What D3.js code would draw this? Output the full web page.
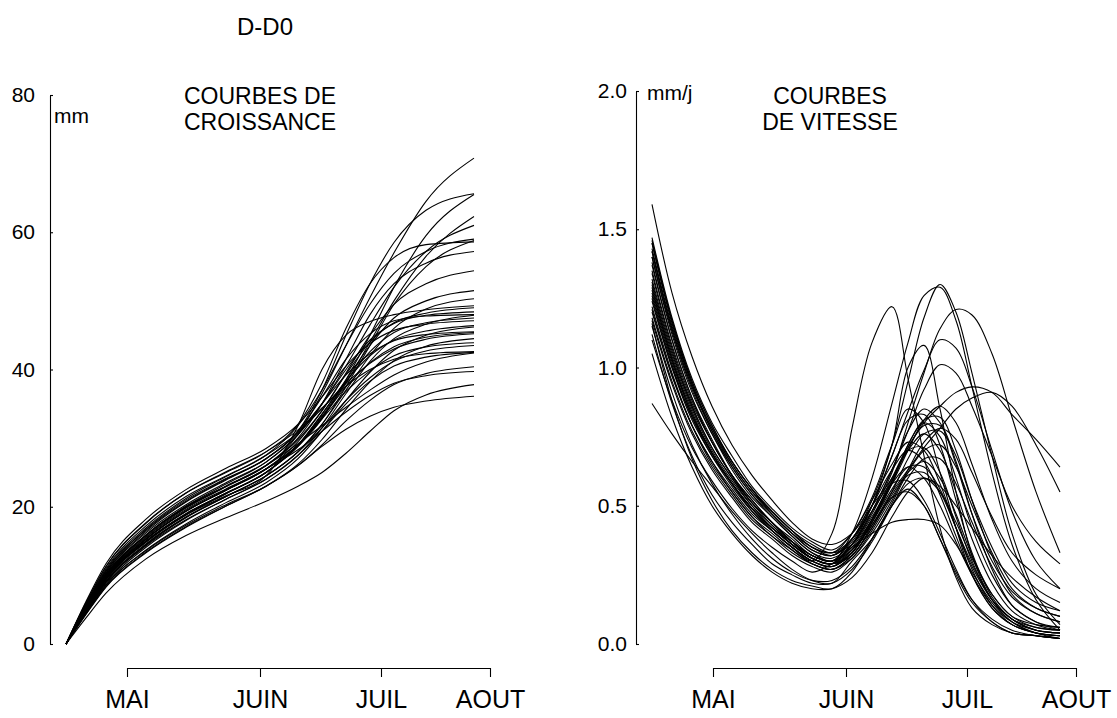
<!DOCTYPE html>
<html><head><meta charset="utf-8">
<script src="https://cdn.jsdelivr.net/npm/d3@7"></script>
<style>
body{margin:0;background:#fff}
svg{display:block}
text{font-family:"Liberation Sans",Arial,Helvetica,sans-serif;fill:#000}
</style>
</head><body><svg id="c" width="1117" height="718"></svg>
<script>
// ---- data ----
const monthLabels = ["MAI", "JUIN", "JUIL", "AOUT"];
const monthDays = [15.25, 48.5, 78.75, 106];
const growthTicks = [0, 20, 40, 60, 80];
const speedTicks = [0, 0.5, 1.0, 1.5, 2.0];

const growthDays = [0, 5, 10, 20, 30, 40, 50, 58, 64, 70, 76, 82, 90, 102];
const growthCurves = [
  [0, 5.2, 10.0, 15.8, 20.0, 23.0, 26, 30.5, 36.5, 43.5, 50.5, 57, 64.5, 70.8],
  [0, 5.6, 10.6, 16.6, 20.8, 24.0, 27, 31, 37, 45, 52.5, 58.5, 63.2, 65.6],
  [0, 5.0, 9.5, 15.0, 19.0, 22.0, 25, 28.8, 32.8, 38.5, 45, 52, 59.5, 65.5],
  [0, 5.0, 9.6, 15.2, 19.3, 22.4, 25.5, 29, 33, 38, 44, 50, 56.5, 62.3],
  [0, 5.4, 10.3, 16.2, 20.3, 23.5, 26.5, 30.5, 35, 40.5, 46.5, 52, 57.2, 61.0],
  [0, 5.8, 11.0, 17.2, 21.5, 24.5, 27.5, 31.8, 37, 43.5, 49.5, 54, 57.2, 59.0],
  [0, 4.8, 9.1, 14.5, 18.5, 21.5, 24.5, 28, 32, 37.5, 43.5, 49.5, 55, 58.8],
  [0, 6.0, 11.3, 17.6, 22.0, 25.0, 28, 32, 38, 46, 52.5, 56.3, 58.2, 58.6],
  [0, 5.2, 9.9, 15.6, 19.8, 22.9, 26, 30, 35, 41.5, 48, 52.5, 55.5, 57.2],
  [0, 5.1, 9.7, 15.3, 19.4, 22.4, 25.5, 29.5, 34, 39.5, 45, 49.5, 52.5, 54.4],
  [0, 4.9, 9.4, 14.9, 18.9, 21.9, 25, 29, 33.5, 38.5, 43.5, 47.5, 50, 51.5],
  [0, 4.7, 9.0, 14.4, 18.4, 21.5, 24.5, 28, 32, 37, 42, 46, 48.8, 50.3],
  [0, 5.0, 9.5, 15.0, 18.8, 21.6, 24.5, 31.8, 40, 45, 47, 48, 48.7, 49.3],
  [0, 5.3, 10.1, 15.9, 20.1, 23.3, 26.5, 30.5, 35, 40, 44.3, 46.7, 47.9, 48.4],
  [0, 5.6, 10.6, 16.7, 21.0, 24.1, 27, 31, 36, 41.5, 45.2, 47.1, 47.8, 48.0],
  [0, 4.6, 8.8, 14.1, 18.0, 21.1, 24, 27.5, 31.5, 36.5, 41.2, 44.5, 46.6, 47.9],
  [0, 5.2, 9.8, 15.5, 19.6, 22.6, 25.5, 29, 33.2, 38.2, 42.6, 45.4, 46.8, 47.5],
  [0, 6.2, 11.7, 18.2, 22.5, 25.6, 28.5, 32, 36, 40.5, 43.8, 45.7, 46.6, 47.1],
  [0, 5.0, 9.5, 15.0, 19.0, 22.0, 25, 29, 33.5, 38.3, 42, 44.3, 45.6, 46.4],
  [0, 4.5, 8.6, 13.7, 17.5, 20.6, 23.5, 27, 31, 35.5, 39.6, 42.8, 45, 46.2],
  [0, 5.5, 10.4, 16.4, 20.7, 23.9, 27, 30.8, 35, 39.2, 42.3, 44.2, 45.1, 45.5],
  [0, 4.9, 9.4, 14.8, 18.8, 21.9, 25, 28.8, 33, 37.5, 41, 43.3, 44.7, 45.4],
  [0, 5.7, 10.8, 16.9, 21.2, 24.4, 27.5, 30.8, 34.3, 38, 40.9, 43, 44.4, 45.2],
  [0, 4.4, 8.4, 13.4, 17.1, 20.1, 23, 26.2, 29.8, 34.2, 38.2, 41.3, 43.4, 44.5],
  [0, 5.1, 9.7, 15.3, 19.4, 22.4, 25.5, 29, 32.8, 36.8, 39.8, 42, 43.3, 43.9],
  [0, 4.8, 9.2, 14.6, 18.5, 21.5, 24.5, 28, 31.5, 35.5, 38.8, 41.2, 42.7, 43.5],
  [0, 6.0, 11.3, 17.7, 22.0, 25.1, 28, 31.2, 34.4, 37.6, 40, 41.5, 42.3, 42.6],
  [0, 4.7, 9.0, 14.3, 18.1, 21.1, 24, 27.5, 31, 35, 38.3, 40.5, 41.8, 42.5],
  [0, 5.3, 10.0, 15.8, 19.9, 23.0, 26, 29.2, 31.8, 34.5, 37, 39.2, 41.1, 42.4],
  [0, 4.5, 8.6, 13.6, 17.3, 20.3, 23, 26, 29, 32.5, 35.5, 37.8, 39.4, 40.4],
  [0, 5.1, 9.7, 15.3, 19.4, 22.5, 25.5, 28.3, 31, 33.8, 36.2, 38, 39.1, 39.7],
  [0, 3.8, 7.4, 12.4, 15.8, 18.4, 20.8, 23, 25, 27.8, 31, 34, 36.3, 37.8],
  [0, 4.3, 8.3, 13.3, 17.0, 20.1, 23, 26, 28.8, 31.3, 33.2, 34.5, 35.4, 36.1],
  [0, 5.3, 10.1, 15.9, 20.0, 23.0, 26, 29.8, 34, 39.3, 44, 46.8, 48.2, 49.0]
];

const speedDays = [0, 5, 10, 15, 20, 25, 30, 35, 40, 45, 50, 55, 60, 64, 68, 72, 76, 80, 85, 90, 96, 102];
const speedCurves = [
  [1.59,1.27,1.04,0.86,0.72,0.61,0.52,0.44,0.38,0.36, 0.40,0.50,0.60,0.71,0.80,0.86,0.91,0.93,0.91,0.83,0.74,0.64],
  [1.45,1.16,0.94,0.77,0.64,0.54,0.46,0.39,0.33,0.30, 0.40,0.60,0.87,1.09,1.26,1.29,1.17,0.93,0.62,0.36,0.16,0.05],
  [1.26,1.01,0.82,0.69,0.58,0.49,0.42,0.36,0.31,0.29, 0.32,0.43,0.55,0.63,0.71,0.78,0.85,0.89,0.91,0.86,0.72,0.55],
  [1.40,1.12,0.91,0.76,0.63,0.53,0.46,0.39,0.33,0.31, 0.36,0.47,0.62,0.80,0.98,1.14,1.21,1.19,1.05,0.82,0.55,0.33],
  [1.35,1.08,0.88,0.73,0.61,0.52,0.44,0.38,0.32,0.30, 0.38,0.50,0.68,0.84,0.99,1.10,1.07,0.93,0.70,0.48,0.30,0.20],
  [1.38,1.10,0.89,0.74,0.61,0.51,0.44,0.37,0.31,0.29, 0.36,0.50,0.72,0.95,1.18,1.30,1.20,0.98,0.68,0.40,0.18,0.07],
  [1.24,1.00,0.82,0.68,0.58,0.49,0.42,0.37,0.32,0.30, 0.36,0.48,0.63,0.77,0.92,1.01,0.98,0.86,0.68,0.50,0.37,0.29],
  [1.42,1.14,0.93,0.77,0.65,0.55,0.47,0.40,0.34,0.32, 0.38,0.52,0.72,1.00,1.08,0.85,0.55,0.32,0.16,0.08,0.04,0.03],
  [1.37,1.10,0.89,0.73,0.61,0.51,0.44,0.37,0.31,0.29, 0.35,0.45,0.58,0.70,0.81,0.86,0.80,0.65,0.45,0.30,0.20,0.15],
  [1.31,1.05,0.86,0.71,0.60,0.51,0.43,0.37,0.32,0.30, 0.36,0.48,0.63,0.77,0.85,0.80,0.65,0.47,0.30,0.19,0.13,0.10],
  [1.29,1.03,0.84,0.69,0.58,0.49,0.41,0.35,0.30,0.28, 0.33,0.44,0.59,0.72,0.81,0.82,0.70,0.52,0.32,0.18,0.11,0.08],
  [1.22,0.98,0.79,0.66,0.55,0.46,0.40,0.34,0.29,0.27, 0.31,0.40,0.52,0.63,0.73,0.78,0.74,0.62,0.46,0.33,0.25,0.20],
  [1.20,0.97,0.79,0.66,0.56,0.47,0.41,0.35,0.30,0.40, 0.78,1.09,1.22,0.96,0.68,0.42,0.24,0.13,0.07,0.04,0.03,0.02],
  [1.46,1.17,0.95,0.79,0.66,0.56,0.47,0.40,0.35,0.32, 0.38,0.50,0.68,0.81,0.83,0.72,0.52,0.33,0.17,0.09,0.05,0.04],
  [1.43,1.15,0.94,0.78,0.66,0.56,0.48,0.41,0.35,0.33, 0.40,0.53,0.72,0.85,0.80,0.62,0.42,0.25,0.13,0.07,0.04,0.03],
  [1.18,0.95,0.77,0.64,0.54,0.45,0.39,0.33,0.29,0.27, 0.32,0.42,0.55,0.67,0.76,0.77,0.68,0.52,0.35,0.22,0.15,0.12],
  [1.27,1.02,0.83,0.69,0.58,0.49,0.42,0.36,0.31,0.29, 0.33,0.44,0.58,0.72,0.80,0.75,0.60,0.42,0.25,0.14,0.08,0.06],
  [1.47,1.18,0.96,0.80,0.68,0.57,0.49,0.42,0.37,0.34, 0.40,0.52,0.65,0.73,0.70,0.58,0.42,0.27,0.14,0.07,0.04,0.03],
  [1.28,1.03,0.83,0.69,0.58,0.48,0.41,0.35,0.30,0.28, 0.34,0.45,0.59,0.70,0.76,0.70,0.55,0.38,0.22,0.12,0.07,0.05],
  [1.15,0.91,0.72,0.58,0.47,0.38,0.31,0.26,0.23,0.23, 0.28,0.38,0.51,0.62,0.70,0.72,0.64,0.50,0.33,0.20,0.13,0.10],
  [1.40,1.13,0.92,0.76,0.64,0.54,0.47,0.40,0.34,0.32, 0.37,0.50,0.63,0.70,0.66,0.54,0.39,0.25,0.13,0.07,0.04,0.03],
  [1.25,1.00,0.81,0.68,0.57,0.48,0.41,0.35,0.30,0.28, 0.33,0.45,0.60,0.70,0.71,0.62,0.46,0.30,0.16,0.09,0.05,0.04],
  [1.42,1.14,0.93,0.78,0.65,0.55,0.48,0.41,0.35,0.33, 0.36,0.46,0.58,0.64,0.60,0.50,0.37,0.25,0.14,0.08,0.05,0.04],
  [1.12,0.87,0.68,0.54,0.44,0.36,0.29,0.25,0.22,0.22, 0.27,0.37,0.50,0.60,0.67,0.67,0.58,0.44,0.28,0.17,0.11,0.08],
  [1.30,1.04,0.85,0.70,0.59,0.50,0.42,0.36,0.31,0.29, 0.33,0.44,0.56,0.64,0.64,0.56,0.42,0.28,0.16,0.09,0.05,0.04],
  [1.21,0.97,0.79,0.65,0.55,0.46,0.39,0.34,0.29,0.27, 0.32,0.42,0.54,0.62,0.66,0.60,0.47,0.32,0.18,0.10,0.06,0.05],
  [1.45,1.17,0.95,0.79,0.66,0.56,0.48,0.41,0.36,0.33, 0.38,0.48,0.58,0.59,0.52,0.40,0.27,0.16,0.08,0.04,0.03,0.02],
  [1.17,0.94,0.76,0.63,0.53,0.44,0.38,0.32,0.28,0.26, 0.31,0.41,0.53,0.61,0.62,0.55,0.42,0.29,0.16,0.09,0.06,0.05],
  [1.10,0.88,0.71,0.59,0.49,0.41,0.35,0.30,0.26,0.29, 0.35,0.40,0.44,0.45,0.45,0.43,0.36,0.26,0.15,0.08,0.04,0.02],
  [1.05,0.82,0.64,0.50,0.40,0.32,0.26,0.22,0.20,0.20, 0.24,0.33,0.46,0.55,0.60,0.55,0.44,0.31,0.18,0.10,0.07,0.06],
  [1.34,1.07,0.87,0.73,0.61,0.52,0.44,0.37,0.32,0.30, 0.34,0.43,0.53,0.55,0.50,0.38,0.25,0.15,0.08,0.04,0.03,0.02],
  [0.87,0.76,0.66,0.57,0.48,0.40,0.33,0.27,0.23,0.22, 0.30,0.38,0.50,0.58,0.60,0.57,0.50,0.42,0.32,0.24,0.17,0.12],
  [1.16,0.88,0.67,0.52,0.41,0.33,0.27,0.23,0.21,0.20, 0.26,0.38,0.50,0.56,0.50,0.38,0.26,0.16,0.09,0.05,0.03,0.02],
  [1.32,1.06,0.86,0.71,0.60,0.50,0.43,0.36,0.31,0.29, 0.34,0.45,0.59,0.71,0.79,0.79,0.66,0.47,0.27,0.14,0.08,0.05]
];

// ---- drawing ----
const svg = d3.select("#c");
const FONT_TICK = 21, FONT_TITLE = 23, FONT_MONTH = 25;

function panel(opts) {
  const g = svg.append("g");
  const x = d3.scaleLinear().domain([0, 102]).range([opts.x0, opts.x0 + 408]);
  const y = d3.scaleLinear().domain(opts.yDomain).range([644, opts.yTop]);

  // curves
  const line = d3.line()
    .x((d, i) => x(opts.days[i]))
    .y(d => y(d))
    .curve(opts.curve);
  g.append("g").selectAll("path").data(opts.curves).join("path")
    .attr("d", line)
    .attr("fill", "none")
    .attr("stroke", "#000")
    .attr("stroke-width", 1.1);

  // y axis (ticks pointing inward, labels on the left)
  const yAx = g.append("g").attr("transform", `translate(${opts.axisX},0)`)
    .call(d3.axisRight(y).tickValues(opts.yTicks).tickSize(3).tickSizeOuter(0).tickFormat(opts.yFormat));
  yAx.select(".domain").attr("stroke", "#000").attr("stroke-width", 1.1);
  yAx.selectAll(".tick line").attr("stroke", "#000").attr("stroke-width", 1.1);
  yAx.selectAll(".tick text")
    .attr("x", -opts.labelGap).attr("text-anchor", "end")
    .style("font-size", FONT_TICK + "px")
    .style("font-family", '"Liberation Sans",Arial,sans-serif')
    .attr("fill", "#000");

  // x axis from MAI to AOUT
  const xa = d3.scaleLinear()
    .domain([monthDays[0], monthDays[monthDays.length - 1]])
    .range([x(monthDays[0]), x(monthDays[monthDays.length - 1])]);
  const xAx = g.append("g").attr("transform", `translate(0,668)`)
    .call(d3.axisBottom(xa).tickValues(monthDays).tickSize(9).tickSizeOuter(0)
      .tickPadding(13).tickFormat((d, i) => monthLabels[i]));
  xAx.select(".domain").attr("stroke", "#000").attr("stroke-width", 1.1);
  xAx.selectAll(".tick line").attr("stroke", "#000").attr("stroke-width", 1.1);
  xAx.selectAll(".tick text")
    .style("font-size", FONT_MONTH + "px")
    .style("font-family", '"Liberation Sans",Arial,sans-serif')
    .attr("fill", "#000");

  // unit label
  g.append("text").attr("x", opts.axisX + opts.unitDx).attr("y", opts.unitY)
    .style("font-size", "21px").text(opts.unit);

  // title
  opts.title.forEach((t, i) => {
    g.append("text").attr("x", opts.titleX).attr("y", 104 + i * 26)
      .attr("text-anchor", "middle").style("font-size", FONT_TITLE + "px").text(t);
  });
}

panel({
  x0: 66, axisX: 50, yTop: 95, yDomain: [0, 80], yTicks: growthTicks,
  yFormat: d3.format("d"), labelGap: 15, days: growthDays, curves: growthCurves,
  curve: d3.curveMonotoneX, unit: "mm", unitDx: 4, unitY: 123,
  title: ["COURBES DE", "CROISSANCE"], titleX: 260
});
panel({
  x0: 652, axisX: 636, yTop: 91, yDomain: [0, 2], yTicks: speedTicks,
  yFormat: d3.format(".1f"), labelGap: 9, days: speedDays, curves: speedCurves,
  curve: d3.curveCatmullRom.alpha(0.5), unit: "mm/j", unitDx: 11, unitY: 100,
  title: ["COURBES", "DE VITESSE"], titleX: 830
});

svg.append("text").attr("x", 265).attr("y", 35).attr("text-anchor", "middle")
  .style("font-size", "24px").text("D-D0");
</script>
</body></html>
